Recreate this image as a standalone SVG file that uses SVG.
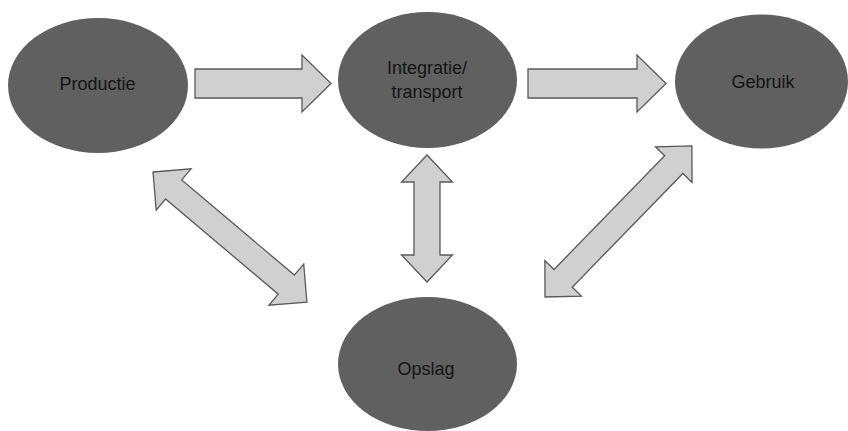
<svg xmlns="http://www.w3.org/2000/svg" width="848" height="431" viewBox="0 0 848 431">
<style>
.node{fill:#606060;}
.lbl{font-family:"Liberation Sans",Arial,sans-serif;font-size:18px;fill:#141414;text-anchor:middle;}
.arr{fill:#d0d0d0;stroke:#595959;stroke-width:1.3;stroke-linejoin:miter;}
</style>
<rect width="848" height="431" fill="#ffffff"/>
<g id="connectors">
<path class="arr" d="M195,69 L302,69 L302,55 L331,83.5 L302,112 L302,98 L195,98 Z"/>
<path class="arr" d="M528,69 L637,69 L637,55 L666,83.5 L637,112 L637,98 L528,98 Z"/>
<path class="arr" transform="translate(427,155) rotate(90)" d="M0,0 L27,-25.5 L27,-13 L100,-13 L100,-25.5 L127,0 L100,25.5 L100,13 L27,13 L27,25.5 Z"/>
<path class="arr" transform="translate(153,172) rotate(40.2)" d="M0,0 L27,-27 L27,-12.5 L174.5,-12.5 L174.5,-27 L201.5,0 L174.5,27 L174.5,12.5 L27,12.5 L27,27 Z"/>
<path class="arr" transform="translate(545,297) rotate(-45.8)" d="M0,0 L26,-25.5 L26,-12.7 L184.7,-12.7 L184.7,-25.5 L210.7,0 L184.7,25.5 L184.7,12.7 L26,12.7 L26,25.5 Z"/>
</g>
<g id="productie">
<ellipse class="node" cx="98" cy="85.5" rx="90" ry="67.5"/>
<text class="lbl" x="97.5" y="90">Productie</text>
</g>
<g id="integratie">
<ellipse class="node" cx="427.5" cy="80" rx="89.5" ry="68"/>
<text class="lbl" x="427" y="74">Integratie/</text>
<text class="lbl" x="427" y="98">transport</text>
</g>
<g id="gebruik">
<ellipse class="node" cx="761.5" cy="81.5" rx="86.5" ry="67"/>
<text class="lbl" x="763" y="88">Gebruik</text>
</g>
<g id="opslag">
<ellipse class="node" cx="427.5" cy="364" rx="89.5" ry="67"/>
<text class="lbl" x="426" y="375">Opslag</text>
</g>
</svg>
